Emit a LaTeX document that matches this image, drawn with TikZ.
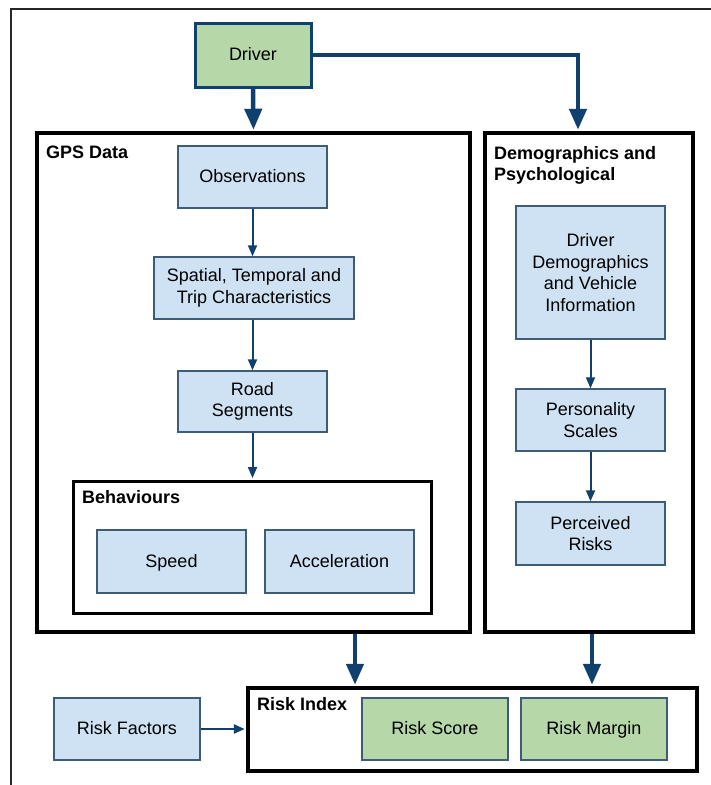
\documentclass[tikz,border=0pt]{standalone}
\usepackage{fontspec}
\setmainfont{Liberation Sans}
\usetikzlibrary{arrows.meta,positioning}
\definecolor{bluefill}{HTML}{CFE2F3}
\definecolor{greenfill}{HTML}{B6D7A8}
\definecolor{boxedge}{HTML}{3E5C78}
\definecolor{arrowblue}{HTML}{10406E}
\tikzset{
  every node/.style={font=\fontsize{18}{21.5}\selectfont, align=center, inner sep=0pt},
  oneline/.style={text height=12pt, text depth=1pt},
  bluebox/.style={draw=boxedge, line width=1.5pt, fill=bluefill, minimum width=#1},
  greenbox/.style={draw=boxedge, line width=1.5pt, fill=greenfill, minimum width=146pt, minimum height=62pt, oneline},
  groupbox/.style={draw=black, line width=3.5pt, fill=white},
  grouplabel/.style={font=\fontsize{18}{21.5}\selectfont\bfseries, align=left, anchor=north west},
  bigarrow/.style={draw=arrowblue, line width=4.5pt, -{Triangle[width=17pt,length=21pt]}},
  smallarrow/.style={draw=arrowblue, line width=2pt, -{Triangle[width=9pt,length=11pt]}},
}
\begin{document}
\begin{tikzpicture}[x=1pt,y=-1pt]
\useasboundingbox (0,0) rectangle (711,785);
\fill[white] (0,0) rectangle (711,785);
% outer frame
\draw[line width=2pt, black!85] (10.5,785) -- (10.5,8.5) -- (711,8.5);

% group boxes
\node[groupbox, minimum width=433pt, minimum height=499pt] (gps) at (253.5,382.5) {};
\node[groupbox, minimum width=208pt, minimum height=499pt] (demo) at (589,382.5) {};
\node[groupbox, minimum width=358pt, minimum height=132pt, line width=3pt] (beh) at (252,547) {};
\node[groupbox, minimum width=449pt, minimum height=83pt] (riskidx) at (472.5,729.5) {};

\node[grouplabel] (gpslbl) at (46,146) {GPS Data};
\node[grouplabel] (demolbl) at (494,146) {Demographics and\\Psychological};
\node[grouplabel] (behlbl) at (82,490) {Behaviours};
\node[grouplabel] (risklbl) at (257,697) {Risk Index};

% driver
\node[draw=arrowblue, line width=3pt, fill=greenfill, minimum width=116pt, minimum height=64pt, oneline] (driver) at (253,55) {Driver};

% GPS column
\node[bluebox=149pt, minimum height=62pt, oneline] (obs) at (252.5,177) {Observations};
\node[bluebox=200pt, minimum height=62pt] (stc) at (254,288) {Spatial, Temporal and\\Trip Characteristics};
\node[bluebox=149pt, minimum height=61pt] (road) at (252.5,401.5) {Road\\Segments};
\node[bluebox=149pt, minimum height=63pt, oneline] (speed) at (171.5,561.5) {Speed};
\node[bluebox=149pt, minimum height=63pt, oneline] (accel) at (339.5,561.5) {Acceleration};

% Demographics column
\node[bluebox=149pt, minimum height=133pt] (ddvi) at (590.5,272.5) {Driver\\Demographics\\and Vehicle\\Information};
\node[bluebox=149pt, minimum height=62pt] (pers) at (590.5,420) {Personality\\Scales};
\node[bluebox=149pt, minimum height=63pt] (perc) at (590.5,533.5) {Perceived\\Risks};

% Risk index
\node[greenbox] (score) at (435,729) {Risk Score};
\node[greenbox] (margin) at (594,729) {Risk Margin};
\node[bluebox=146pt, minimum height=62pt, oneline] (factors) at (127,729) {Risk Factors};

% connectors
\draw[bigarrow, shorten >=1.5pt] (driver.south) -- (gps.north);
\draw[bigarrow, shorten >=1.5pt] (driver.east) -| (demo.north -| 578,0);
\draw[bigarrow, shorten >=1.5pt] (gps.south -| 355,0) -- (riskidx.north -| 355,0);
\draw[bigarrow, shorten >=1.5pt] (demo.south -| 592,0) -- (riskidx.north -| 592,0);

\draw[smallarrow] (obs.south) -- (obs.south |- stc.north);
\draw[smallarrow] (stc.south -| road.south) -- (road.north);
\draw[smallarrow, shorten >=1.5pt] (road.south) -- (road.south |- beh.north);
\draw[smallarrow] (ddvi.south) -- (pers.north);
\draw[smallarrow] (pers.south) -- (perc.north);
\draw[smallarrow, line width=2.5pt, shorten >=1.5pt] (factors.east) -- (factors.east -| riskidx.west);
\end{tikzpicture}
\end{document}
